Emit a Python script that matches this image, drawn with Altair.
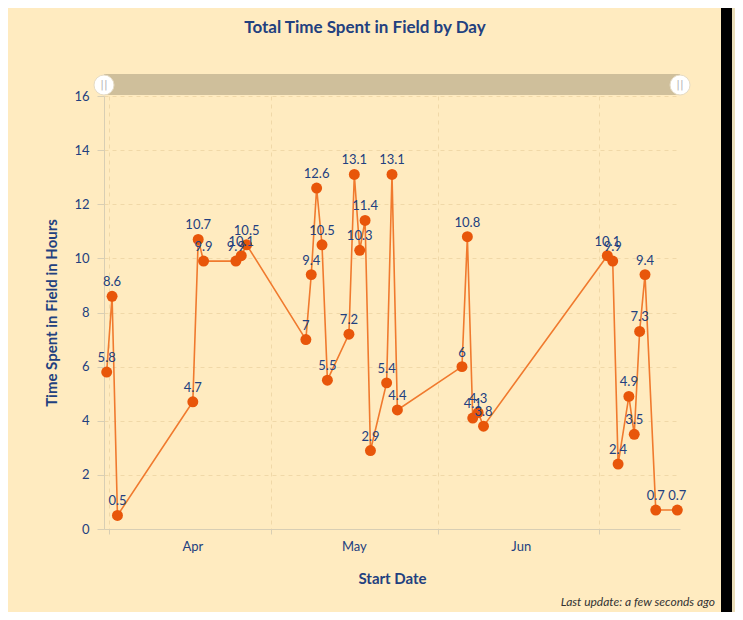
import altair as alt
import pandas as pd

# ---- data ----
dates = ["2023-03-31", "2023-04-01", "2023-04-02", "2023-04-16", "2023-04-17", "2023-04-18",
         "2023-04-24", "2023-04-25", "2023-04-26", "2023-05-07", "2023-05-08", "2023-05-09",
         "2023-05-10", "2023-05-11", "2023-05-15", "2023-05-16", "2023-05-17", "2023-05-18",
         "2023-05-19", "2023-05-22", "2023-05-23", "2023-05-24", "2023-06-05", "2023-06-06",
         "2023-06-07", "2023-06-08", "2023-06-09", "2023-07-02", "2023-07-03", "2023-07-04",
         "2023-07-06", "2023-07-07", "2023-07-08", "2023-07-09", "2023-07-11", "2023-07-15"]
hours = [5.8, 8.6, 0.5, 4.7, 10.7, 9.9, 9.9, 10.1, 10.5, 7, 9.4, 12.6, 10.5, 5.5, 7.2, 13.1,
         10.3, 11.4, 2.9, 5.4, 13.1, 4.4, 6, 10.8, 4.1, 4.3, 3.8, 10.1, 9.9, 2.4, 4.9, 3.5,
         7.3, 9.4, 0.7, 0.7]
y_ticks = [0, 2, 4, 6, 8, 10, 12, 14, 16]
title_text = "Total Time Spent in Field by Day"
footer_text = "Last update: a few seconds ago"

# points sit in the middle of each day cell
df = pd.DataFrame({
    "Start Date": pd.to_datetime(dates) + pd.Timedelta(hours=12),
    "Hours": hours,
})

NAVY = "#22407f"
CREAM = "#ffebc0"
W, H = 576, 433

x_scale = alt.Scale(domain=[alt.DateTime(year=2023, month=3, date=31),
                            alt.DateTime(year=2023, month=7, date=16)])
month_ticks = [alt.DateTime(year=2023, month=m, date=1) for m in (4, 5, 6, 7)]

x_enc = alt.X(
    "Start Date:T", scale=x_scale, title="Start Date",
    axis=alt.Axis(values=month_ticks,
                  labelExpr="month(datum.value) == 6 ? '' : timeFormat(datum.value, '%b')",
                  labelOffset=83, labelFlush=False, labelOverlap=False, labelBound=False,
                  tickSize=5, labelPadding=6, titlePadding=18,
                  grid=True, gridDash=[4, 4], gridColor="#f0d8a8"))
y_enc = alt.Y(
    "Hours:Q", scale=alt.Scale(domain=[0, 16], nice=False),
    title="Time Spent in Field in Hours",
    axis=alt.Axis(values=y_ticks, tickSize=7, labelPadding=8, titlePadding=14,
                  grid=True, gridDash=[4, 4], gridColor="#f0d8a8"))

base = alt.Chart(df).encode(x=x_enc, y=y_enc)

line = base.mark_line(color="#f07a2e", strokeWidth=1.6)
points = base.mark_circle(color="#e8560a", size=120, opacity=1)
labels = base.mark_text(dy=-14, baseline="middle", fontSize=13, color=NAVY,
                        font="Lato").encode(text=alt.Text("Hours:Q"))

one = pd.DataFrame({"k": [0]})
deco = alt.Chart(one)
scroll_bar = deco.mark_rect(color="#cfbf9b").encode(
    x=alt.value(0), x2=alt.value(W), y=alt.value(-22), y2=alt.value(-1))
handle_l = deco.mark_circle(color="white", size=400, opacity=1,
                            stroke="#e6dcc6", strokeWidth=1).encode(
    x=alt.value(0), y=alt.value(-11))
handle_r = deco.mark_circle(color="white", size=400, opacity=1,
                            stroke="#e6dcc6", strokeWidth=1).encode(
    x=alt.value(W), y=alt.value(-11))
grip_l = deco.mark_text(text="||", color="#b8b8b8", fontSize=11, font="DejaVu Sans").encode(
    x=alt.value(0), y=alt.value(-11))
grip_r = deco.mark_text(text="||", color="#b8b8b8", fontSize=11, font="DejaVu Sans").encode(
    x=alt.value(W), y=alt.value(-11))
right_band = deco.mark_rect(color="black").encode(
    x=alt.value(617), x2=alt.value(628), y=alt.value(-90), y2=alt.value(520))
right_beige = deco.mark_rect(color="#e9ddb9").encode(
    x=alt.value(628), x2=alt.value(640), y=alt.value(-90), y2=alt.value(520))
title_mark = deco.mark_text(text=title_text, align="center", baseline="middle",
                            fontSize=17, fontWeight="bold", color=NAVY, font="Lato").encode(
    x=alt.value(261), y=alt.value(-68))
update_txt = deco.mark_text(text=footer_text, align="right",
                            baseline="middle", fontSize=12, fontStyle="italic",
                            color="#333333", font="Lato").encode(
    x=alt.value(611), y=alt.value(506))

chart = alt.layer(
    scroll_bar, line, points, labels, handle_l, handle_r, grip_l, grip_r,
    right_band, right_beige, title_mark, update_txt
).properties(
    width=W, height=H,
    autosize=alt.AutoSizeParams(type="none"),
    padding={"left": 96, "top": 88, "right": 55, "bottom": 83},
    background=CREAM,
).configure_view(stroke=None).configure_axis(
    domainColor="#d8ceb4", tickColor="#d8ceb4", labelColor=NAVY,
    labelFont="Lato", labelFontSize=13, titleColor=NAVY, titleFont="Lato",
    titleFontSize=15, titleFontWeight="bold",
)

chart.save("out.html", embed_options={"renderer": "svg", "actions": False})
